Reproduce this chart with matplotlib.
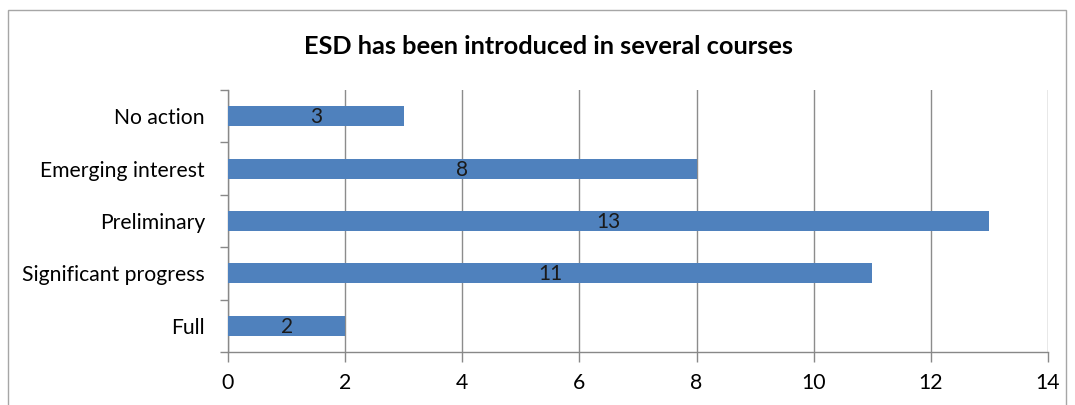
import matplotlib
matplotlib.use("Agg")
import matplotlib.pyplot as plt
from matplotlib.patches import Rectangle
import numpy as np

categories = ["No action", "Emerging interest", "Preliminary", "Significant progress", "Full"]
values = [3, 8, 13, 11, 2]
xticks = [0, 2, 4, 6, 8, 10, 12, 14]
title = "ESD has been introduced in several courses"

plt.rcParams['font.family'] = ['Lato', 'DejaVu Sans']

W, H = 1075, 405
fig = plt.figure(figsize=(W/100, H/100), dpi=100)
fig.patches.append(Rectangle((8/W, -0.1), (1066-8)/W, 1 - 10/H + 0.1, transform=fig.transFigure,
                             fill=False, edgecolor='#A6A6A6', linewidth=1.0))

ax = fig.add_axes([228/W, 1-352/H, (1048-228)/W, (352-90)/H])
y = np.arange(len(categories))
bars = ax.barh(y, values, height=0.38, color='#4F81BD', zorder=3)
for yi, v in zip(y, values):
    ax.text(v/2, yi + 0.02, str(v), ha='center', va='center', fontsize=15, color='#1a1a1a', zorder=4)

ax.set_xlim(0, 14)
ax.set_ylim(len(categories)-0.5, -0.5)
ax.set_xticks(xticks)
ax.set_xticklabels([str(t) for t in xticks], fontsize=15.3)
ax.set_yticks(y)
ax.set_yticklabels(categories, fontsize=15.2)
ax.set_yticks(np.arange(-0.5, len(categories)), minor=True)
ax.tick_params(axis='y', which='major', length=0, pad=16.5)
ax.tick_params(axis='y', which='minor', length=6, color='#888888', width=1)
ax.tick_params(axis='x', length=7, color='#888888', width=1, pad=8)
ax.grid(axis='x', color='#8c8c8c', linewidth=1, zorder=0)
for s in ['top', 'right']:
    ax.spines[s].set_visible(False)
for s in ['left', 'bottom']:
    ax.spines[s].set_color('#888888')
    ax.spines[s].set_linewidth(1)

fig.text(548/W, 1-46/H, title, ha='center', va='center', fontsize=18.3, fontweight='bold')

fig.savefig('out.png', dpi=100)
